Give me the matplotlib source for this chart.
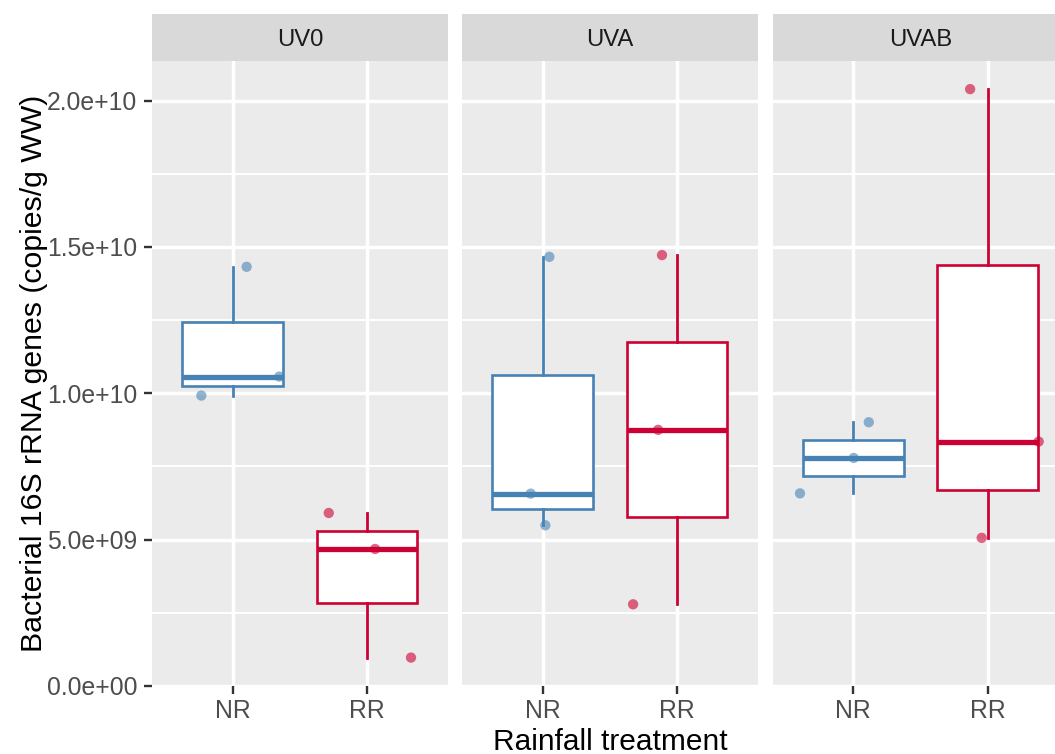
import matplotlib
matplotlib.use('Agg')
import matplotlib.pyplot as plt
import numpy as np

plt.rcParams['font.family'] = ['Liberation Sans', 'DejaVu Sans']

# ---- data ----
uv_levels = ['UV0', 'UVA', 'UVAB']
rain_levels = ['NR', 'RR']
colors = {'NR': '#4682B4', 'RR': '#CC0033'}

uv0_nr = [14.32e9, 9.92e9, 10.57e9]
uv0_rr = [5.91e9, 4.68e9, 0.97e9]
uva_nr = [14.66e9, 6.57e9, 5.49e9]
uva_rr = [14.72e9, 8.75e9, 2.79e9]
uvab_nr = [9.01e9, 7.79e9, 6.58e9]
uvab_rr = [20.39e9, 8.35e9, 5.06e9]

# horizontal jitter applied to the points (category units)
jit_uv0_nr = [0.104, -0.233, 0.347]
jit_uv0_rr = [-0.285, 0.060, 0.327]
jit_uva_nr = [0.050, -0.089, 0.020]
jit_uva_rr = [-0.112, -0.141, -0.327]
jit_uvab_nr = [0.115, 0.003, -0.397]
jit_uvab_rr = [-0.131, 0.379, -0.045]

values = {
    'UV0': {'NR': uv0_nr, 'RR': uv0_rr},
    'UVA': {'NR': uva_nr, 'RR': uva_rr},
    'UVAB': {'NR': uvab_nr, 'RR': uvab_rr},
}
jitters = {
    'UV0': {'NR': jit_uv0_nr, 'RR': jit_uv0_rr},
    'UVA': {'NR': jit_uva_nr, 'RR': jit_uva_rr},
    'UVAB': {'NR': jit_uvab_nr, 'RR': jit_uvab_rr},
}

y_major = [0, 5e9, 1e10, 1.5e10, 2e10]
y_minor = [2.5e9, 7.5e9, 1.25e10, 1.75e10]

# ---- layout (pixels) ----
W, H = 1055, 754
fig = plt.figure(figsize=(W / 100, H / 100), dpi=100)

panel_lefts = [152, 462, 772.7]
panel_w = 295.7
panel_top = 60.7
panel_bot = 686.0
strip_top = 14.0

all_vals = np.concatenate([np.array(values[u][r]) for u in uv_levels for r in rain_levels])
span = all_vals.max() - all_vals.min()
ylo = all_vals.min() - 0.05 * span
yhi = all_vals.max() + 0.05 * span

for i, uv in enumerate(uv_levels):
    left = panel_lefts[i]
    ax = fig.add_axes([left / W, (H - panel_bot) / H, panel_w / W, (panel_bot - panel_top) / H])
    ax.set_facecolor('#EBEBEB')
    for s in ax.spines.values():
        s.set_visible(False)
    ax.set_axisbelow(True)

    for j, rain in enumerate(rain_levels):
        pos = j + 1
        c = colors[rain]
        vals = np.array(values[uv][rain])
        ax.boxplot([vals], positions=[pos], widths=0.75, whis=1.5,
                   showfliers=False, showcaps=False, patch_artist=True,
                   boxprops=dict(facecolor='white', edgecolor=c, linewidth=1.9),
                   whiskerprops=dict(color=c, linewidth=2.0),
                   medianprops=dict(color=c, linewidth=3.8, solid_capstyle='butt'),
                   zorder=3)
        ax.scatter(pos + np.array(jitters[uv][rain]), vals, s=55, color=c,
                   alpha=0.6, edgecolors='none', zorder=5)

    ax.set_xlim(0.4, 2.6)
    ax.set_ylim(ylo, yhi)
    ax.set_xticks([1, 2])
    ax.set_xticklabels(rain_levels)
    ax.set_yticks(y_major)
    ax.set_yticks(y_minor, minor=True)
    ax.grid(which='major', color='white', linewidth=2.5)
    ax.grid(which='minor', axis='y', color='white', linewidth=1.4)
    ax.tick_params(axis='x', which='major', length=5.5, width=1.7, color='#333333',
                   labelsize=17.8, labelcolor='#4D4D4D', pad=3.5)
    ax.tick_params(axis='y', which='minor', length=0)
    if i == 0:
        ax.set_yticklabels(['%.1e' % v for v in y_major])
        ax.tick_params(axis='y', which='major', length=5.5, width=1.7, color='#333333',
                       labelsize=17.8, labelcolor='#4D4D4D', pad=5)
    else:
        ax.tick_params(axis='y', which='major', length=0, labelleft=False)

    # strip
    sax = fig.add_axes([left / W, (H - panel_top) / H, panel_w / W, (panel_top - strip_top) / H])
    sax.set_facecolor('#D9D9D9')
    sax.set_xticks([])
    sax.set_yticks([])
    for s in sax.spines.values():
        s.set_visible(False)
    sax.text(0.5, 0.315, uv, ha='center', va='baseline', fontsize=17.2,
             color='#1A1A1A', transform=sax.transAxes)

fig.text(610.5 / W, 4 / H, 'Rainfall treatment', ha='center', va='baseline',
         fontsize=21.5, color='black')
fig.text(41.7 / W, 1 - 373 / H, 'Bacterial 16S rRNA genes (copies/g WW)',
         rotation=90, rotation_mode='anchor', ha='center', va='baseline',
         fontsize=21.8, color='black')

fig.savefig('out.png', dpi=100)
